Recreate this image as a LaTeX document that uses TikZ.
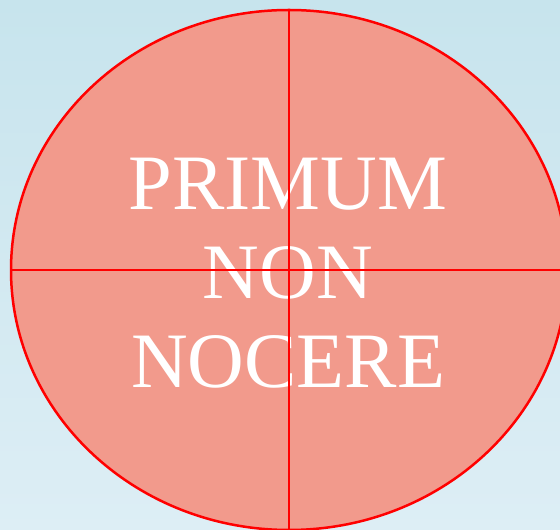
\documentclass[tikz,border=0pt]{standalone}
\usepackage{fontspec}
\setmainfont{Liberation Serif}
\usetikzlibrary{shapes.geometric}
\definecolor{bgtop}{RGB}{199,228,237}
\definecolor{bgbot}{RGB}{221,238,245}
\definecolor{salmon}{RGB}{242,154,140}
\tikzset{
	cross/.style={red, line width=2.6pt},
	motto/.style={text=white, align=center, inner sep=0pt, font=\fontsize{78.5}{89}\selectfont}
}
\begin{document}
\begin{tikzpicture}[x=1pt, y=1pt]
		\useasboundingbox (0, 0) rectangle (560, 530);
		\clip (0, 0) rectangle (560, 530);
		\shade [top color=bgtop, bottom color=bgbot] (0, 0) rectangle (560, 530);
		\node [ellipse, draw=red, line width=2.5pt, fill=salmon, inner sep=0pt, outer sep=0pt,
			minimum width=556pt, minimum height=520pt] at (289, 260) (disc) {};
		\node [motto] at (288, 257) (words) {PRIMUM\\NON\\NOCERE};
		\draw [cross] (disc.north) -- (disc.south);
		\draw [cross] (disc.west) -- (disc.east);
	\end{tikzpicture}
\end{document}
